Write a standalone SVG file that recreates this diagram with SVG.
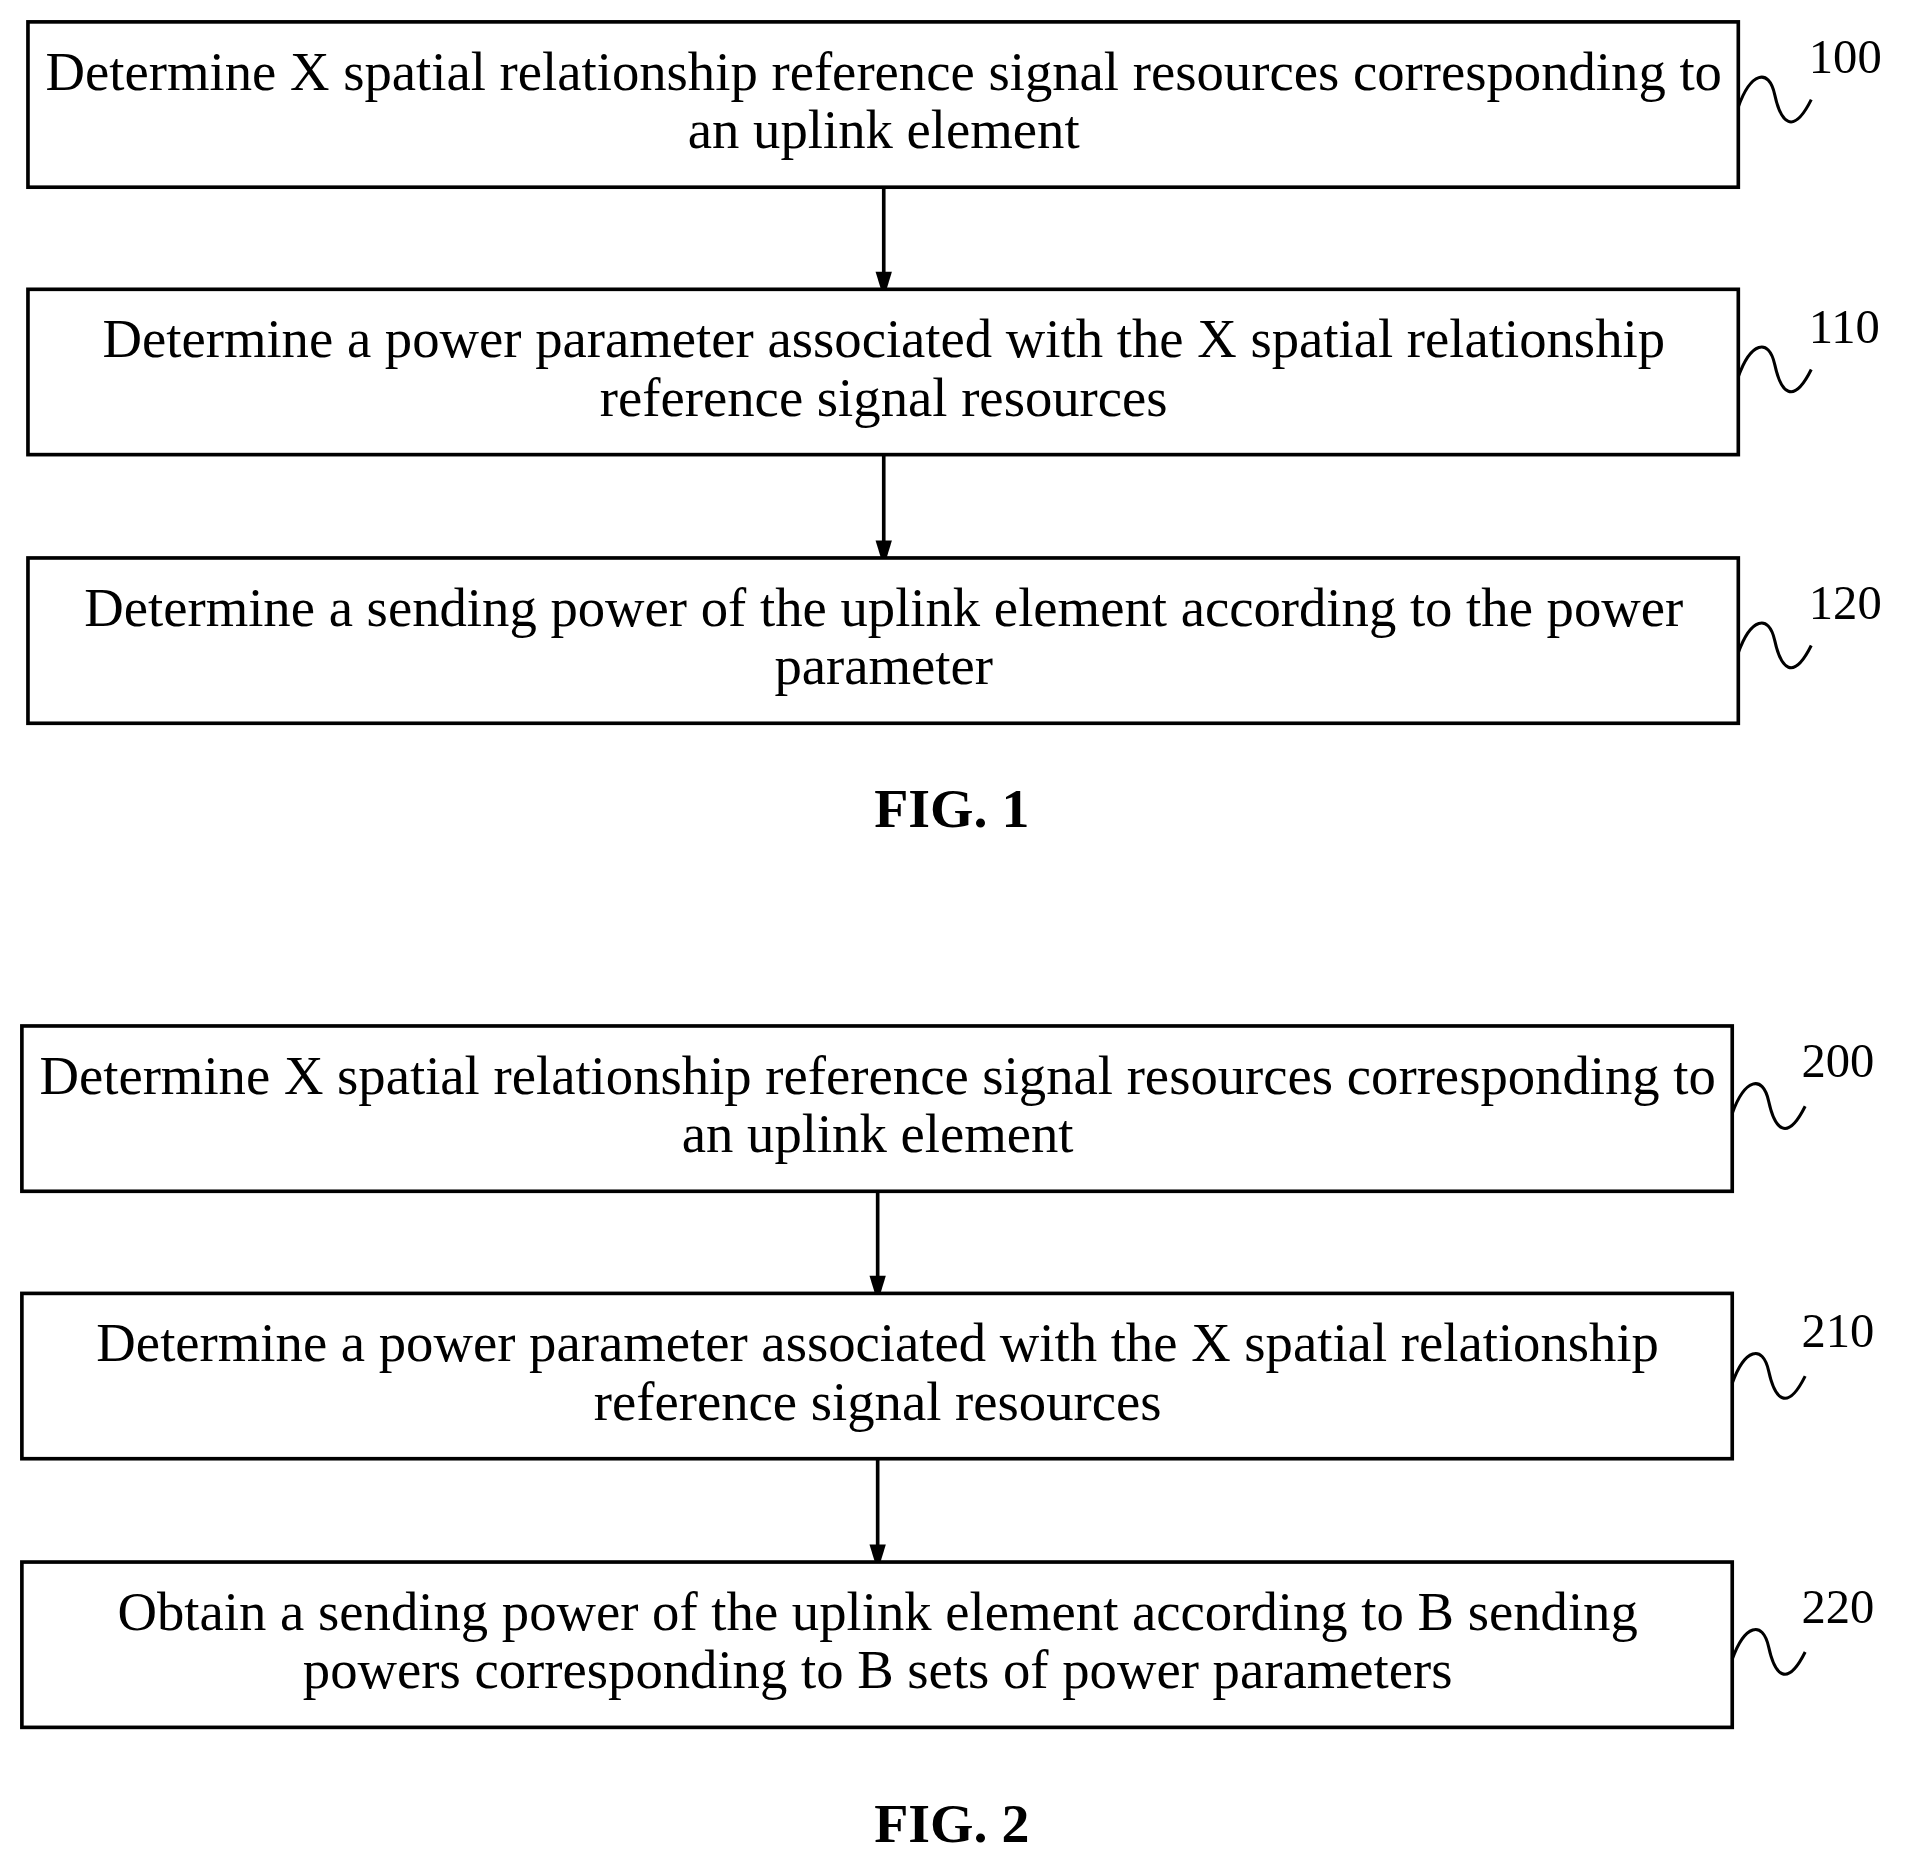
<svg xmlns="http://www.w3.org/2000/svg" width="1906" height="1866" viewBox="0 0 1906 1866">
<style>
.b{fill:#fff;stroke:#000;stroke-width:3}
.t{font-family:"Liberation Serif",serif;font-size:45px;text-anchor:middle;fill:#000}
.l{font-family:"Liberation Serif",serif;font-size:40px;fill:#000}
.f{font-family:"Liberation Serif",serif;font-size:46px;font-weight:bold;text-anchor:middle;fill:#000}
.s{fill:none;stroke:#000;stroke-width:2.5}
.c{stroke:#000;stroke-width:3;fill:none}
</style>
<defs><marker id="a" viewBox="0 0 22 36" refX="22" refY="18" markerWidth="36" markerHeight="22" markerUnits="userSpaceOnUse" orient="auto"><path d="M0,0 L22,18 L0,36 Z" transform="matrix(1.636,0,0,0.611,0,7)" fill="#000"/></marker></defs>
<rect width="1906" height="1866" fill="#fff"/>
<g transform="scale(1.2156)">
<g id="connectors">
<line class="c" x1="727" y1="155" x2="727" y2="237" marker-end="url(#a)"/>
<line class="c" x1="727" y1="375" x2="727" y2="458" marker-end="url(#a)"/>
<line class="c" x1="722" y1="981" x2="722" y2="1063" marker-end="url(#a)"/>
<line class="c" x1="722" y1="1201" x2="722" y2="1284" marker-end="url(#a)"/>
</g>
<g id="n100"><rect class="b" x="23" y="18" width="1407" height="136"/>
<text class="t" x="727" y="74">Determine X spatial relationship reference signal resources corresponding to</text>
<text class="t" x="727" y="122">an uplink element</text>
<path class="s" d="M1430,88 C1440,60 1455,55 1460,78 S1475,112 1490,82"/><text class="l" x="1488" y="60">100</text></g>
<g id="n110"><rect class="b" x="23" y="238" width="1407" height="136"/>
<text class="t" x="727" y="294">Determine a power parameter associated with the X spatial relationship</text>
<text class="t" x="727" y="342">reference signal resources</text>
<path class="s" d="M1430,310 C1440,282 1455,277 1460,300 S1475,334 1490,304"/><text class="l" x="1488" y="282">110</text></g>
<g id="n120"><rect class="b" x="23" y="459" width="1407" height="136"/>
<text class="t" x="727" y="515">Determine a sending power of the uplink element according to the power</text>
<text class="t" x="727" y="563">parameter</text>
<path class="s" d="M1430,537 C1440,509 1455,504 1460,527 S1475,561 1490,531"/><text class="l" x="1488" y="509">120</text></g>
<text class="f" x="783" y="680">FIG. 1</text>
<g id="n200"><rect class="b" x="18" y="844" width="1407" height="136"/>
<text class="t" x="722" y="900">Determine X spatial relationship reference signal resources corresponding to</text>
<text class="t" x="722" y="948">an uplink element</text>
<path class="s" d="M1425,916 C1435,888 1450,883 1455,906 S1470,940 1485,910"/><text class="l" x="1482" y="886">200</text></g>
<g id="n210"><rect class="b" x="18" y="1064" width="1407" height="136"/>
<text class="t" x="722" y="1120">Determine a power parameter associated with the X spatial relationship</text>
<text class="t" x="722" y="1168">reference signal resources</text>
<path class="s" d="M1425,1138 C1435,1110 1450,1105 1455,1128 S1470,1162 1485,1132"/><text class="l" x="1482" y="1108">210</text></g>
<g id="n220"><rect class="b" x="18" y="1285" width="1407" height="136"/>
<text class="t" x="722" y="1341">Obtain a sending power of the uplink element according to B sending</text>
<text class="t" x="722" y="1389">powers corresponding to B sets of power parameters</text>
<path class="s" d="M1425,1365 C1435,1337 1450,1332 1455,1355 S1470,1389 1485,1359"/><text class="l" x="1482" y="1335">220</text></g>
<text class="f" x="783" y="1515">FIG. 2</text>
</g>
</svg>
